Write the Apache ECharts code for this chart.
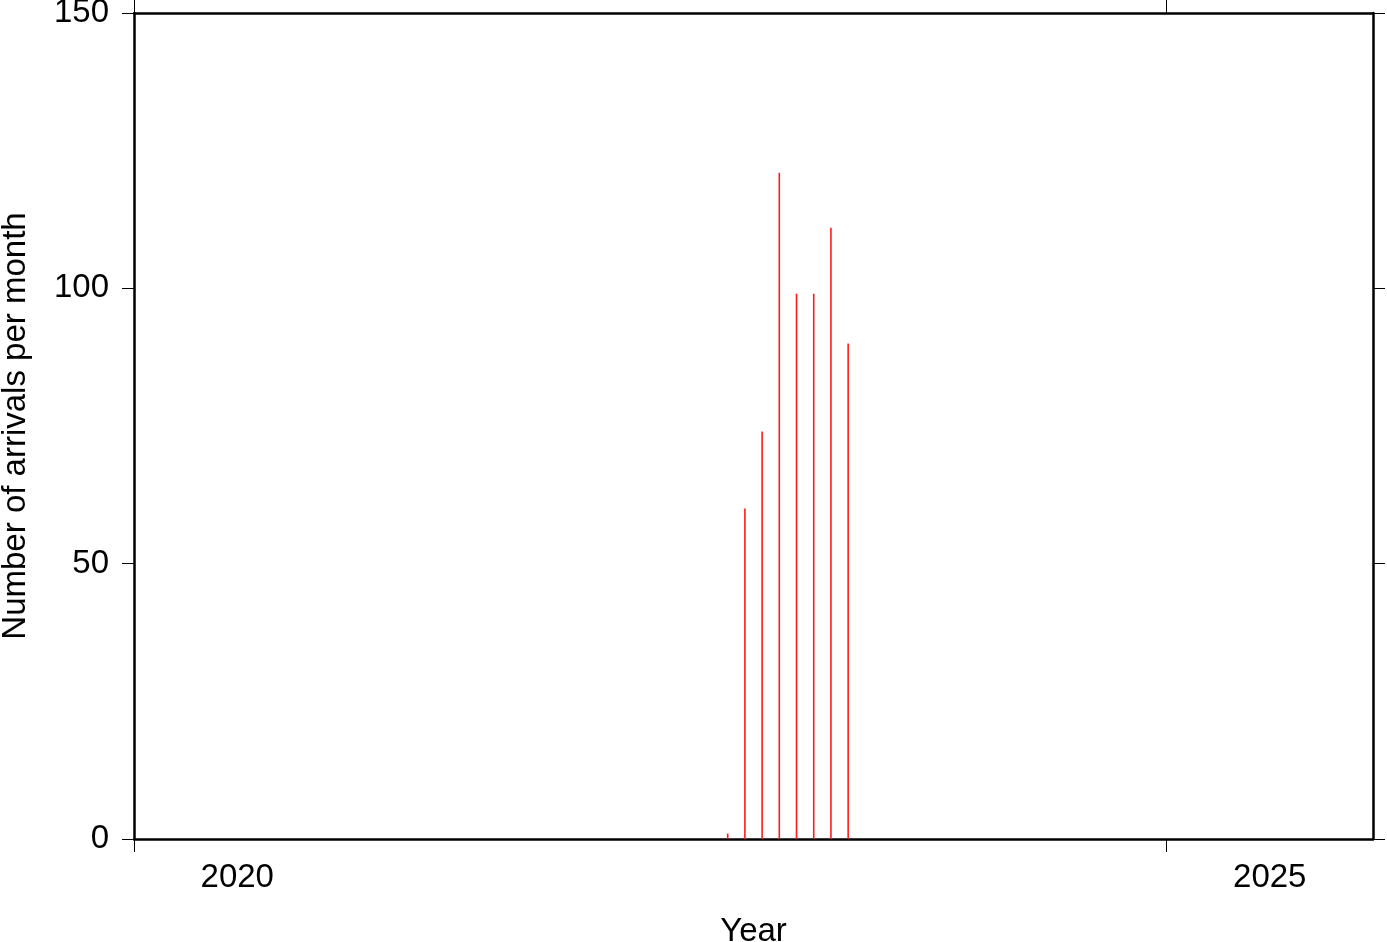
<!DOCTYPE html>
<html>
<head>
<meta charset="utf-8">
<script src="https://cdn.jsdelivr.net/npm/echarts@6/dist/echarts.min.js"></script>
<style>
html,body{margin:0;padding:0;background:#fff;}
#chart{width:1387px;height:942px;}
</style>
</head>
<body>
<div id="chart"></div>
<script>
// Data
const months = ['2022-11','2022-12','2023-01','2023-02','2023-03','2023-04','2023-05','2023-06'];
const arrivals = [1, 60, 74, 121, 99, 99, 111, 90];
const yearTicks = [2020, 2025];
const yearLabels = ['2020', '2025'];
const yTicks = [0, 50, 100, 150];

// month string -> decimal year at mid-month
function monthPos(s) {
  const [y, m] = s.split('-').map(Number);
  return y + (m - 0.5) / 12;
}
const seriesData = months.map((m, i) => [monthPos(m), arrivals[i]]);
const labelPos = yearTicks.map(y => y + 0.5);

const font = 'Liberation Sans, Arial, Helvetica, sans-serif';
const fs = 33;

const chart = echarts.init(document.getElementById('chart'), null, {renderer: 'canvas'});
const xBase = {
  type: 'value', min: 2020, max: 2026,
  splitLine: {show: false},
  axisLine: {show: true, onZero: false, lineStyle: {color: '#000', width: 2.5}},
  axisTick: {show: true, inside: false, length: 13, customValues: yearTicks, lineStyle: {color: '#000', width: 1}}
};
const yBase = {
  type: 'value', min: 0, max: 150, interval: 50,
  splitLine: {show: false},
  axisLine: {show: true, onZero: false, lineStyle: {color: '#000', width: 2.5}},
  axisTick: {show: true, inside: false, length: 12, lineStyle: {color: '#000', width: 1}}
};
chart.setOption({
  animation: false,
  backgroundColor: '#fff',
  grid: {left: 134, right: 14, top: 13, bottom: 103, containLabel: false, outerBoundsMode: 'none'},
  xAxis: [
    Object.assign({}, xBase, {
      position: 'bottom',
      name: 'Year', nameLocation: 'middle', nameGap: 76,
      nameTextStyle: {fontFamily: font, fontSize: fs, color: '#000'},
      axisLabel: {
        show: true, customValues: labelPos, margin: 22,
        fontFamily: font, fontSize: fs, color: '#000',
        formatter: v => { const i = labelPos.indexOf(v); return i >= 0 ? yearLabels[i] : ''; }
      }
    }),
    Object.assign({}, xBase, {position: 'top', axisLabel: {show: false}})
  ],
  yAxis: [
    Object.assign({}, yBase, {
      position: 'left',
      name: 'Number of arrivals per month', nameLocation: 'middle', nameGap: 102, nameRotate: 90,
      nameTextStyle: {fontFamily: font, fontSize: fs, color: '#000'},
      axisLabel: {show: true, margin: 25, fontFamily: font, fontSize: fs, color: '#000',
        customValues: yTicks}
    }),
    Object.assign({}, yBase, {position: 'right', axisLabel: {show: false}})
  ],
  series: [{
    type: 'bar',
    xAxisIndex: 0, yAxisIndex: 0,
    data: seriesData,
    barWidth: 1.6,
    itemStyle: {color: '#ff1a1a'}
  }]
});
</script>
</body>
</html>
